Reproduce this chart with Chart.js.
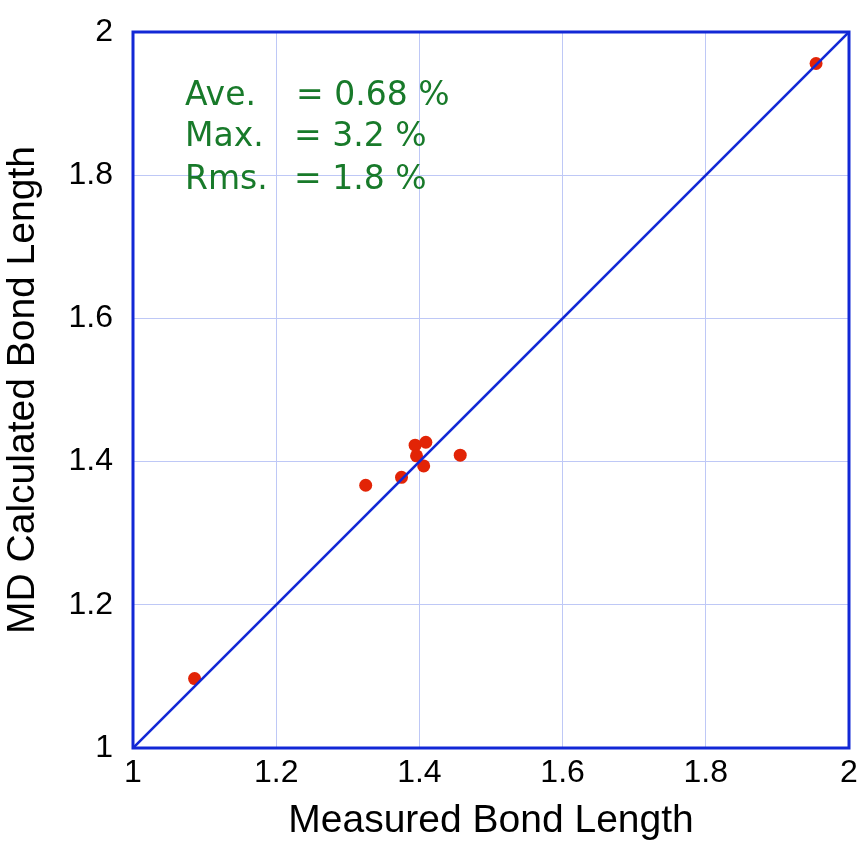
<!DOCTYPE html>
<html>
<head>
<meta charset="utf-8">
<script src="https://cdn.jsdelivr.net/npm/chart.js@4/dist/chart.umd.min.js"></script>
<style>
html,body{margin:0;padding:0;background:#fff;}
#wrap{width:864px;height:845px;}
</style>
</head>
<body>
<div id="wrap"><canvas id="c" width="864" height="845"></canvas></div>
<script>
// Data
const measured   = [1.086, 1.325, 1.375, 1.394, 1.409, 1.396, 1.406, 1.457, 1.954];
const calculated = [1.097, 1.367, 1.378, 1.423, 1.427, 1.408, 1.394, 1.409, 1.956];
const identityX  = [1, 2];
const identityY  = [1, 2];
const tickLabels = ['1', '1.2', '1.4', '1.6', '1.8', '2'];
const statNames  = ['Ave.', 'Max.', 'Rms.'];
const statValues = ['= 0.68 %', '= 3.2 %', '= 1.8 %'];
const xTitle = 'Measured Bond Length';
const yTitle = 'MD Calculated Bond Length';

const BLUE = 'rgb(18,40,214)';
const GRID = 'rgb(190,200,246)';
const RED = 'rgb(226,36,6)';
const GREEN = 'rgb(24,122,42)';

const points = measured.map((x, i) => ({x, y: calculated[i]}));
const diag = identityX.map((x, i) => ({x, y: identityY[i]}));

const framePlugin = {
  id: 'frame',
  afterDatasetsDraw(chart) {
    const {ctx, chartArea: a} = chart;
    ctx.save();
    ctx.strokeStyle = BLUE;
    ctx.lineWidth = 3;
    ctx.strokeRect(a.left, a.top, a.right - a.left, a.bottom - a.top);
    ctx.restore();
  },
  beforeDatasetsDraw(chart) {
    const {ctx, scales: {x, y}} = chart;
    ctx.save();
    ctx.fillStyle = GREEN;
    ctx.font = '33px "DejaVu Sans"';
    ctx.textBaseline = 'alphabetic';
    ctx.textAlign = 'left';
    const x0 = x.getPixelForValue(1.0726);
    const xs = [1.2277, 1.2250, 1.2250];
    const ys = [1.898, 1.841, 1.781];
    statNames.forEach((n, i) => {
      const py = y.getPixelForValue(ys[i]);
      ctx.fillText(n, x0, py);
      ctx.fillText(statValues[i], x.getPixelForValue(xs[i]), py);
    });
    ctx.restore();
  }
};

const tickFont = {family: '"Liberation Sans", Arial, sans-serif', size: 32};
const titleFont = {family: '"Liberation Sans", Arial, sans-serif', size: 39};

new Chart(document.getElementById('c'), {
  type: 'scatter',
  data: {
    datasets: [
      {
        type: 'line',
        data: diag,
        borderColor: BLUE,
        borderWidth: 2.6,
        pointRadius: 0,
        fill: false,
        order: 0
      },
      {
        data: points,
        backgroundColor: RED,
        borderColor: RED,
        borderWidth: 0,
        pointRadius: 6.5,
        order: 1
      }
    ]
  },
  options: {
    responsive: false,
    animation: false,
    events: [],
    layout: {padding: {top: 32, right: 15, left: 0, bottom: 0}},
    plugins: {legend: {display: false}, tooltip: {enabled: false}},
    scales: {
      x: {
        type: 'linear',
        min: 1, max: 2,
        afterFit: s => { s.height = 97; },
        grid: {color: GRID, lineWidth: 1, drawTicks: true, tickLength: 4, tickColor: 'rgba(0,0,0,0)'},
        border: {display: false},
        ticks: {
          stepSize: 0.2,
          padding: 2,
          color: '#000',
          font: tickFont,
          callback: (v, i) => tickLabels[i]
        },
        title: {
          display: true, text: xTitle, color: '#000',
          padding: {top: 0, bottom: 0},
          font: titleFont
        }
      },
      y: {
        type: 'linear',
        min: 1, max: 2,
        afterFit: s => { s.width = 133; },
        grid: {color: GRID, lineWidth: 1, drawTicks: true, tickLength: 18, tickColor: 'rgba(0,0,0,0)'},
        border: {display: false},
        ticks: {
          stepSize: 0.2,
          padding: 2,
          color: '#000',
          font: tickFont,
          callback: (v, i) => tickLabels[i]
        },
        title: {
          display: true, text: yTitle, color: '#000',
          padding: {top: 0, bottom: 0},
          font: titleFont
        }
      }
    }
  },
  plugins: [framePlugin]
});
</script>
</body>
</html>
